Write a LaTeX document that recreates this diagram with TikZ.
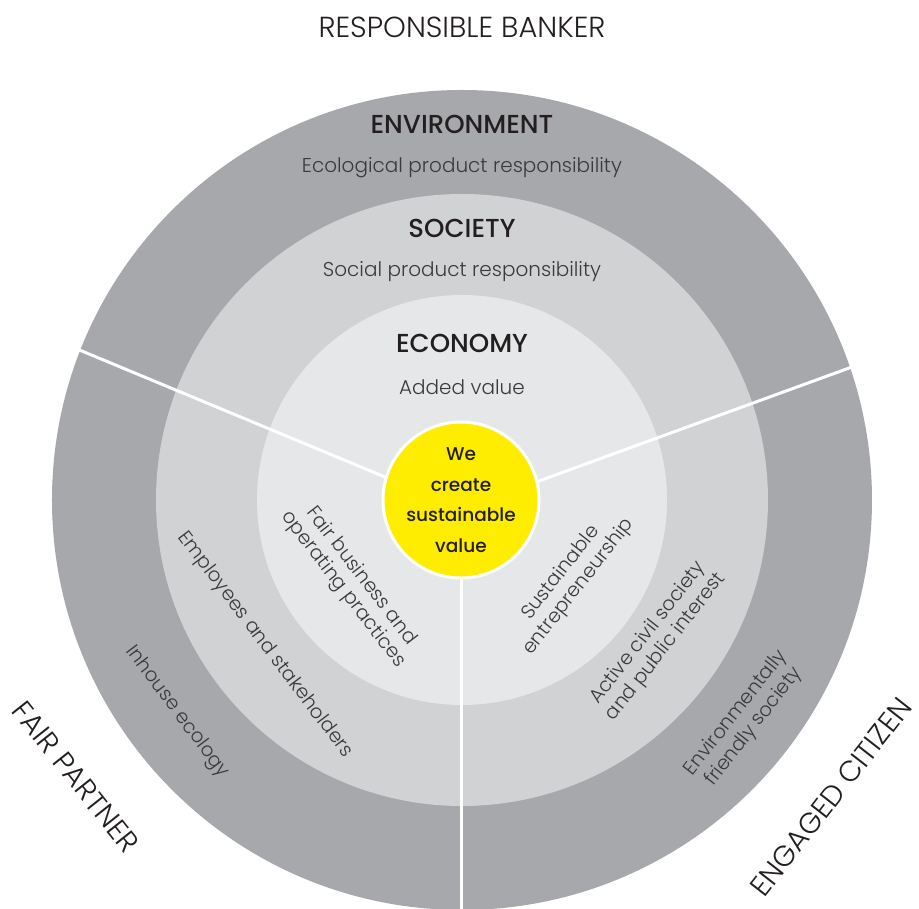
\documentclass[tikz,border=0pt]{standalone}
\usepackage{fontspec}
\setmainfont{Poppins Light}
\newfontfamily\medf{Poppins Medium}
\definecolor{ringA}{HTML}{A7A8AB}
\definecolor{ringB}{HTML}{D1D2D4}
\definecolor{ringC}{HTML}{E6E7E8}
\definecolor{yel}{HTML}{FFED00}
\definecolor{txt}{HTML}{231F20}
\definecolor{subt}{HTML}{3A3A3C}
\begin{document}
\begin{tikzpicture}[x=1pt,y=1pt,
  head/.style={font=\medf\fontsize{26}{28}\selectfont, text=txt, inner sep=0pt},
  sub/.style={font=\fontsize{20}{22}\selectfont, text=subt, inner sep=0pt},
  rot/.style={font=\fontsize{19.5}{22.5}\selectfont, text=subt, align=center, inner sep=0pt},
  outer/.style={font=\fontsize{29}{31}\selectfont, text=txt, inner sep=0pt},
  sep/.style={white, line width=3pt}]
\useasboundingbox (-462,-409) rectangle (457,500);
\fill[white] (-462,-409) rectangle (457,500);
\begin{scope}
\clip (-462,-409) rectangle (457,500);
\fill[ringA] (0,0) circle (410);
\fill[ringB] (0,0) circle (306);
\fill[ringC] (0,0) circle (205);
\coordinate (hub) at (0,-9);
\coordinate (lend) at (-385,151);
\coordinate (rend) at (390,133);
\coordinate (bend) at (0,-420);
\draw[sep] (hub) -- (lend);
\draw[sep] (hub) -- (rend);
\draw[sep] (0,0) -- (bend);
\end{scope}
\node[circle, fill=yel, draw=white, line width=3pt, minimum size=156pt, inner sep=0pt,
  align=center, font=\medf\fontsize{18.5}{30.5}\selectfont, text=txt] (core) at (-1,0)
  {We\\create\\sustainable\\value};

\node[outer] (banker) at (0,473) {RESPONSIBLE BANKER};
\node[head] (env) at (0,376) {ENVIRONMENT};
\node[sub] (envsub) at (0,332) {Ecological product responsibility};
\node[head] (soc) at (0,272) {SOCIETY};
\node[sub] (socsub) at (0,228) {Social product responsibility};
\node[head] (eco) at (0,157) {ECONOMY};
\node[sub] (ecosub) at (0,113) {Added value};

\node[rot, rotate=-52.5] (fair) at (-110,-83) {Fair business and\\operating practices};
\node[rot, rotate=-53] (empl) at (-197,-145) {Employees and stakeholders};
\node[rot, rotate=-53] (inh) at (-285,-212) {Inhouse ecology};
\node[rot, rotate=52] (sust) at (108,-80) {Sustainable\\entrepreneurship};
\node[rot, rotate=52] (act) at (195,-140) {Active civil society\\and public interest};
\node[rot, rotate=52] (envfr) at (283,-220) {Environmentally\\friendly society};

\node[outer, rotate=-51.5] (fp) at (-386,-277) {FAIR PARTNER};
\node[outer, rotate=52] (ec) at (369,-297) {ENGAGED CITIZEN};
\end{tikzpicture}
\end{document}
